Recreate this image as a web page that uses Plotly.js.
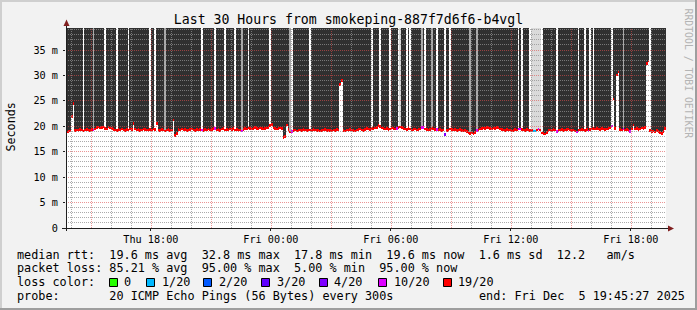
<!DOCTYPE html>
<html><head><meta charset="utf-8">
<script src="https://cdn.plot.ly/plotly-3.0.1.min.js"></script>
<style>html,body{margin:0;padding:0;background:#f2f2f2;} #chart{width:697px;height:310px;}</style>
</head><body><div id="chart"></div>
<script>
// ---- data ----
const startUTC = Date.UTC(2025, 11, 4, 13, 45, 0);   // first 5-minute column
const stepMs = 300000;
const rangeStart = '2025-12-04 13:45:27';
const rangeEnd = '2025-12-05 19:45:27';
const yTop = 39.33;

// median rtt per 5-minute column (ms)
const medianMs = [
18.9,19.0,19.1,21.9,24.5,19.2,19.3,19.2,19.4,19.3,
19.1,19.3,19.4,19.3,19.2,19.4,19.3,19.5,19.8,19.9,
19.7,19.8,19.9,19.6,19.5,19.9,19.7,19.6,19.4,19.3,
19.2,19.4,19.3,19.5,19.3,19.2,19.4,19.3,19.5,19.4,
20.6,19.5,19.3,19.4,19.2,19.3,19.5,19.4,19.3,19.2,
19.4,19.3,19.5,19.4,20.6,19.3,19.2,19.4,19.3,19.1,
19.3,19.4,19.2,19.3,21.2,18.2,18.6,19.4,19.3,19.5,
19.3,19.4,19.2,19.3,19.4,19.5,19.3,19.2,19.4,19.3,
19.4,19.3,19.2,19.4,19.3,19.5,19.3,19.4,19.6,19.6,
19.3,19.4,19.2,19.5,19.6,19.3,19.4,19.3,19.5,19.4,
19.6,19.3,19.4,19.2,19.3,19.1,19.4,19.6,19.5,19.7,
19.6,19.5,19.6,19.8,19.6,19.5,19.7,19.6,19.5,19.6,
19.7,19.8,20.2,20.4,19.7,19.6,19.5,19.6,19.7,19.6,
17.8,18.0,20.3,19.4,18.9,19.0,19.2,19.3,19.1,19.2,
19.3,19.2,19.4,19.3,19.2,19.3,19.3,19.2,19.4,19.3,
19.2,19.3,19.1,19.2,19.3,19.4,19.2,19.3,19.2,19.1,
19.3,19.2,19.4,19.3,28.2,29.0,19.2,19.1,19.3,19.2,
19.4,19.3,19.2,19.1,19.3,19.4,19.5,19.3,19.2,19.4,
19.6,19.5,19.4,19.6,19.5,19.7,19.8,20.2,20.0,19.7,
19.6,19.5,19.6,19.4,19.5,19.7,19.6,19.5,19.6,19.8,
19.9,19.8,19.6,19.5,19.4,19.6,19.5,19.3,19.4,19.5,
19.3,19.4,19.5,19.8,19.8,19.5,19.4,19.3,19.4,19.6,
19.5,19.4,19.4,19.3,19.4,19.2,19.3,18.4,19.2,19.3,
19.5,19.4,19.3,19.4,19.2,19.3,19.4,19.2,19.1,19.2,
19.0,18.8,18.6,18.7,18.5,18.8,19.2,19.3,19.5,19.6,
19.7,19.6,19.8,19.7,19.6,19.5,19.7,19.6,19.8,19.7,
19.5,19.4,19.3,19.2,19.4,19.2,19.3,19.1,19.2,19.4,
19.3,19.5,19.5,19.4,19.3,19.2,19.4,19.3,19.2,19.2,
19.1,19.1,19.3,19.5,19.3,18.7,18.6,18.5,18.8,19.2,
19.3,19.2,19.4,19.3,19.0,19.2,19.3,19.4,19.2,19.3,
19.4,19.5,19.3,19.2,19.3,19.1,18.9,19.2,19.3,19.4,
19.3,19.2,19.4,19.1,19.4,19.5,19.6,19.5,19.6,19.5,
19.4,19.6,19.5,19.4,19.5,19.6,19.7,20.1,25.4,19.6,
30.1,30.7,19.4,19.3,19.5,19.3,19.4,19.2,19.0,19.5,
20.3,19.5,19.6,19.4,19.5,19.7,19.6,19.8,32.4,32.8,
19.2,19.0,19.1,18.9,19.2,19.0,18.8,18.6,19.0,19.6
];

// columns whose loss is not 19/20 (column index, loss label)
const lossCols   = [16,81,89,105,135,198,213,214,222,227,246,271,272,280,281,283,294,306,313,327,334,338];
const lossLabels = ['10/20','10/20','10/20','10/20','10/20','10/20','10/20','10/20','10/20','4/20','10/20','10/20','10/20','1/20','1/20','10/20','10/20','10/20','10/20','10/20','10/20','10/20'];

// smoke appearance per column
const whiteGapCols = [10,23,30,37,50,53,81,89,95,101,109,122,135,146,183,188,194,199,204,206,215,222,227,230,271,273,278,285,294,307,311,314,316,327,350];
const grayCols = [16,59,105,134,213,219,242,246,334];
const lightGrayCols = [200,279,280,281,282,283,284];

// legend
const lossLegend = ['0','1/20','2/20','3/20','4/20','10/20','19/20'];
const lossColors = ['#26ff00','#00b8ff','#0059ff','#5e00ff','#7e00ff','#dd00ff','#ff0000'];

// axes
const xTickVals = ['2025-12-04 18:00','2025-12-05 00:00','2025-12-05 06:00','2025-12-05 12:00','2025-12-05 18:00'];
const xTickText = ['Thu 18:00','Fri 00:00','Fri 06:00','Fri 12:00','Fri 18:00'];
const yTickVals = [0,5,10,15,20,25,30,35];
const yTickText = ['0','5 m','10 m','15 m','20 m','25 m','30 m','35 m'];

// ---- build ----
function fmt(ms){ return new Date(ms).toISOString().replace('T',' ').slice(0,19); }
const xs = medianMs.map((_, i) => fmt(startUTC + i*stepMs + stepMs/2));

const smokeY = [], smokeC = [];
medianMs.forEach((m, i) => {
  if (whiteGapCols.includes(i)) { smokeY.push(null); smokeC.push('rgba(255,255,255,0.999)'); return; }
  smokeY.push(yTop - m);
  if (lightGrayCols.includes(i)) smokeC.push('rgba(218,218,218,0.999)');
  else if (grayCols.includes(i)) smokeC.push('rgba(170,170,170,0.999)');
  else smokeC.push('rgba(48,48,48,0.999)');
});

const band = 0.5;
const medBase = medianMs.map(m => m - band/2);
const medH = medianMs.map(() => band);
const medC = medianMs.map((_, i) => {
  const k = lossCols.indexOf(i);
  const lab = k >= 0 ? lossLabels[k] : '19/20';
  const c = lossColors[lossLegend.indexOf(lab)];
  const r = parseInt(c.slice(1,3),16), g = parseInt(c.slice(3,5),16), b = parseInt(c.slice(5,7),16);
  return `rgba(${r},${g},${b},0.999)`;
});

const traces = [
  {type:'bar', x: xs, y: smokeY, base: medianMs, width: stepMs, marker:{color: smokeC, line:{width:0}}, hoverinfo:'skip', showlegend:false},
  {type:'bar', x: xs, y: medH, base: medBase, width: stepMs, marker:{color: medC, line:{width:0}}, hoverinfo:'skip', showlegend:false}
];

// pixel helpers (plot area: x 66..666, y 28..228)
const L = 66, T = 28, PW = 600, PH = 200;
const px = v => (v - L) / PW;
const py = v => (T + PH - v) / PH;
const rangeStartMs = Date.UTC(2025, 11, 4, 13, 45, 27);
const spanMs = 30 * 3600000;

const shapes = [];
const gridMinor = 'rgba(143,143,143,0.75)', gridMajor = 'rgba(222,79,79,0.6)';
// vertical grid: every hour, major every 3 hours (snapped to pixel centres)
for (let h = 14; h <= 43; h++) {
  const t = Date.UTC(2025, 11, 4, h, 0, 0);
  const xpx = Math.round(L + (t - rangeStartMs) / spanMs * PW) + 0.5;
  const major = (h % 3) === 0;
  shapes.push({type:'line', xref:'paper', yref:'paper', x0: px(xpx), x1: px(xpx), y0:0, y1:1,
    line:{color: major ? gridMajor : gridMinor, width:1, dash:'1px,1px'}, layer:'above'});
}
// horizontal grid: every 1 ms, major every 5 ms
for (let v = 1; v <= 39; v++) {
  const ypx = Math.floor(T + PH - v * PH / yTop) + 0.5;
  const major = (v % 5) === 0;
  shapes.push({type:'line', xref:'paper', yref:'paper', x0:0, x1:1, y0:py(ypx), y1:py(ypx),
    line:{color: major ? gridMajor : gridMinor, width:1, dash:'1px,1px'}, layer:'above'});
}
// axes lines + arrows
shapes.push({type:'line', xref:'paper', yref:'paper', x0:px(62), x1:px(669), y0:py(228.5), y1:py(228.5), line:{color:'#1f1f1f', width:1}, layer:'above'});
shapes.push({type:'line', xref:'paper', yref:'paper', x0:px(66.5), x1:px(66.5), y0:py(231), y1:py(24), line:{color:'#1f1f1f', width:1}, layer:'above'});
shapes.push({type:'path', xref:'paper', yref:'paper', path:`M ${px(63.5)} ${py(26)} L ${px(69.5)} ${py(26)} L ${px(66.5)} ${py(19.5)} Z`, fillcolor:'#801f1f', line:{width:0}, layer:'above'});
shapes.push({type:'path', xref:'paper', yref:'paper', path:`M ${px(668)} ${py(225.5)} L ${px(668)} ${py(231.5)} L ${px(674)} ${py(228.5)} Z`, fillcolor:'#801f1f', line:{width:0}, layer:'above'});
// image border shades
shapes.push({type:'rect', xref:'paper', yref:'paper', x0:px(0), x1:px(697), y0:py(0), y1:py(2), fillcolor:'#cfcfcf', line:{width:0}});
shapes.push({type:'rect', xref:'paper', yref:'paper', x0:px(0), x1:px(2), y0:py(0), y1:py(310), fillcolor:'#cfcfcf', line:{width:0}});
shapes.push({type:'rect', xref:'paper', yref:'paper', x0:px(695), x1:px(697), y0:py(0), y1:py(310), fillcolor:'#9e9e9e', line:{width:0}});
shapes.push({type:'rect', xref:'paper', yref:'paper', x0:px(0), x1:px(697), y0:py(308), y1:py(310), fillcolor:'#9e9e9e', line:{width:0}});

// legend squares
const sqX = [109,146,203,261,319,378,443];
const lblX = [123,161,218,276,333,393,457];
lossLegend.forEach((lab, k) => {
  shapes.push({type:'rect', xref:'paper', yref:'paper', x0:px(sqX[k]+0.5), x1:px(sqX[k]+8.5), y0:py(278.5), y1:py(286.5),
    fillcolor: lossColors[k], line:{color:'#000', width:1}});
});

const mono = 'DejaVu Sans Mono';
const ann = (text, x, y, size, extra) => Object.assign({text, xref:'paper', yref:'paper', x:px(x), y:py(y), xanchor:'left', yanchor:'middle',
  showarrow:false, font:{family:mono, size:size, color:'#000'}, borderpad:0}, extra||{});
const legSize = 11.8;
const annotations = [
  ann('median rtt:  19.6 ms avg  32.8 ms max  17.8 ms min  19.6 ms now  1.6 ms sd  12.2   am/s', 16, 254.5, legSize),
  ann('packet loss: 85.21 % avg  95.00 % max  5.00 % min  95.00 % now', 16, 268, legSize),
  ann('loss color:', 16, 282, legSize),
  ann('probe:       20 ICMP Echo Pings (56 Bytes) every 300s', 16, 295.5, legSize),
  ann('end: Fri Dec  5 19:45:27 2025', 478, 295.5, legSize),
  ann('Seconds', 10.5, 127, 11.7, {xanchor:'center', textangle:-90}),
  ann('RRDTOOL / TOBI OETIKER', 688, 73.5, 9.8, {xanchor:'center', textangle:90, font:{family:mono, size:9.8, color:'#b4b4b4'}})
];
lossLegend.forEach((lab, k) => annotations.push(ann(lab, lblX[k], 282, legSize)));

const layout = {
  width: 697, height: 310,
  margin: {l: L, r: 697 - L - PW, t: T, b: 310 - T - PH, pad: 0},
  paper_bgcolor: '#f2f2f2', plot_bgcolor: '#ffffff',
  title: {text: 'Last 30 Hours from smokeping-887f7d6f6-b4vgl', font:{family:mono, size:13.2, color:'#000'},
          x: 0.5, xanchor:'center', xref:'container', y: 1 - 19/310, yanchor:'middle', yref:'container'},
  barmode: 'overlay', bargap: 0,
  showlegend: false,
  xaxis: {type:'date', range:[rangeStart, rangeEnd], tickmode:'array', tickvals:xTickVals, ticktext:xTickText,
          showgrid:false, zeroline:false, showline:false, ticks:'outside', ticklen:2, tickcolor:'#1f1f1f',
          tickfont:{family:mono, size:10.2, color:'#000'}, fixedrange:true},
  yaxis: {range:[0, yTop], tickmode:'array', tickvals:yTickVals, ticktext:yTickText,
          showgrid:false, zeroline:false, showline:false, ticks:'outside', ticklen:2, tickcolor:'#1f1f1f',
          ticklabelstandoff:3,
          tickfont:{family:mono, size:10.2, color:'#000'}, fixedrange:true},
  shapes, annotations
};

Plotly.newPlot('chart', traces, layout, {displayModeBar:false, staticPlot:true});
</script>
</body></html>
